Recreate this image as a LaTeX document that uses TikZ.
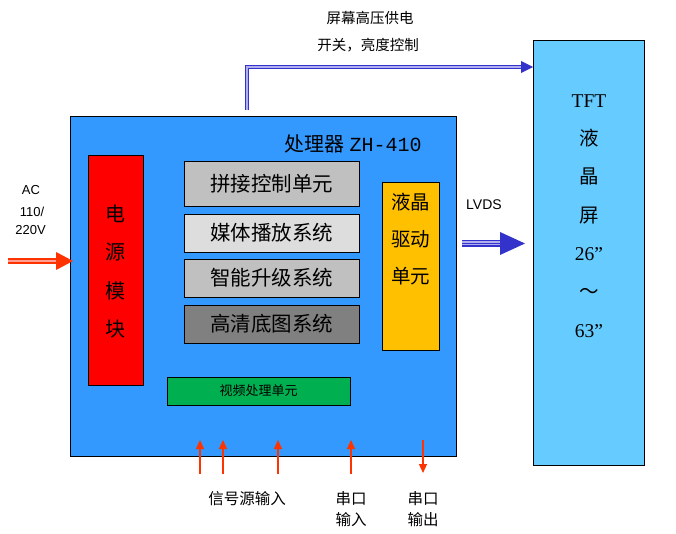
\documentclass[tikz,border=0pt]{standalone}
\usepackage{fontspec}
\setmainfont{Liberation Serif}
\setsansfont{Liberation Sans}
\setmonofont{Liberation Mono}
\newfontfamily\cjk{Noto Sans CJK SC}
\usetikzlibrary{arrows.meta}
\definecolor{mainblue}{HTML}{3399FF}
\definecolor{pwrred}{HTML}{FF0000}
\definecolor{silverc}{HTML}{C0C0C0}
\definecolor{paleg}{HTML}{DDDDDD}
\definecolor{darkg}{HTML}{808080}
\definecolor{lcdorange}{HTML}{FFC000}
\definecolor{vidgreen}{HTML}{00B050}
\definecolor{tftblue}{HTML}{66CCFF}
\definecolor{arrblue}{HTML}{3333CC}
\definecolor{arrblueL}{HTML}{B0B0F0}
\definecolor{arrred}{HTML}{FF3300}
\definecolor{arrredL}{HTML}{FFA090}
\begin{document}
\begin{tikzpicture}[x=1pt,y=-1pt,
  blk/.style={draw=black, line width=0.9pt, anchor=north west, inner sep=0pt, outer sep=0pt},
  cjkbig/.style={font=\cjk\fontsize{20.5}{20.5}\selectfont},
  lbl/.style={font=\cjk\fontsize{14.5}{14.5}\selectfont, inner sep=0pt},
  botlbl/.style={font=\cjk\fontsize{15.5}{15.5}\selectfont, inner sep=0pt},
  sig/.style={draw=arrred, line width=1.2pt, -{Triangle[width=8pt,length=9pt]}}
]
\useasboundingbox[fill=white] (0,0) rectangle (676,534);

% main processor box
\node[blk, fill=mainblue, minimum width=386pt, minimum height=340pt] (main) at (70,116) {};
\node[inner sep=0pt] (title) at (353,144) {\fontsize{20}{20}\selectfont{\cjk 处理器} \texttt{ZH-410}};

% power module
\node[blk, fill=pwrred, minimum width=55pt, minimum height=230pt] (pwr) at (88,155) {};
\node[align=center, inner sep=0pt, font=\cjk\fontsize{20}{38.3}\selectfont] (pwrt) at (115.5,271.5) {电\\源\\模\\块};

% gray boxes
\node[blk, fill=silverc, minimum width=175pt, minimum height=45pt] (b1) at (184,161) {};
\node[cjkbig] at (b1.center) {拼接控制单元};
\node[blk, fill=paleg, minimum width=175pt, minimum height=38pt] (b2) at (184,214) {};
\node[cjkbig] at (b2.center) {媒体播放系统};
\node[blk, fill=silverc, minimum width=175pt, minimum height=38pt] (b3) at (184,259) {};
\node[cjkbig] at (b3.center) {智能升级系统};
\node[blk, fill=darkg, minimum width=175pt, minimum height=38pt] (b4) at (184,305) {};
\node[cjkbig] at (b4.center) {高清底图系统};

% LCD driver
\node[blk, fill=lcdorange, minimum width=57pt, minimum height=168pt] (drv) at (382,182) {};
\node[align=center, inner sep=0pt, font=\cjk\fontsize{19.5}{37}\selectfont] (drvt) at (410.5,239) {液晶\\驱动\\单元};

% video processing
\node[blk, fill=vidgreen, minimum width=183pt, minimum height=28pt] (vid) at (167,377) {};
\node[font=\cjk\fontsize{13}{13}\selectfont] at (vid.center) {视频处理单元};

% TFT panel
\node[blk, fill=tftblue, minimum width=111pt, minimum height=425pt] (tft) at (533,40) {};
\node[align=center, inner sep=0pt, font=\fontsize{19.5}{38.3}\selectfont] (tftt) at (589,216) {TFT\\{\cjk 液}\\{\cjk 晶}\\{\cjk 屏}\\26”\\{\cjk ～}\\63”};

% top control arrow
\coordinate (t0) at (247,110);
\coordinate (t1) at (247,67);
\coordinate (t2) at (522,67);
\draw[draw=arrblue, line width=1.1pt, double=arrblueL, double distance=1.6pt] (t0) -- (t1) -- (t2);
\fill[arrblue] (521,61) -- (533,67) -- (521,73) -- cycle;
\node[lbl] at (370,18) {屏幕高压供电};
\node[lbl] at (368,45) {开关，亮度控制};

% LVDS arrow
\coordinate (l0) at (462,243.5);
\coordinate (l1) at (502,243.5);
\draw[draw=arrblue, line width=1.8pt, double=arrblueL, double distance=4pt] (l0) -- (l1);
\draw[draw=arrblue, line width=1.6pt] (l0) -- (l1);
\fill[arrblue] (500,232) -- (525,243.5) -- (500,255) -- cycle;
\node[font=\sffamily\fontsize{14}{14}\selectfont, inner sep=0pt] (lvds) at (484,205) {LVDS};

% AC arrow
\coordinate (a0) at (8,261);
\coordinate (a1) at (58,261);
\draw[draw=arrred, line width=1.8pt, double=arrredL, double distance=1.8pt] (a0) -- (a1);
\fill[arrred] (56,252) -- (73,261) -- (56,270) -- cycle;
\node[font=\sffamily\fontsize{13}{13}\selectfont, inner sep=0pt] (ac) at (31,190) {AC};
\node[font=\sffamily\fontsize{13}{13}\selectfont, inner sep=0pt] (v1) at (32,212) {110/};
\node[font=\sffamily\fontsize{13}{13}\selectfont, inner sep=0pt] (v2) at (30.5,230) {220V};

% bottom signal arrows
\coordinate (s1b) at (200,474); \coordinate (s1t) at (200,440);
\coordinate (s2b) at (223,474); \coordinate (s2t) at (223,440);
\coordinate (s3b) at (278,474); \coordinate (s3t) at (278,440);
\coordinate (s4b) at (351,474); \coordinate (s4t) at (351,440);
\coordinate (s5t) at (423,440); \coordinate (s5b) at (423,473);
\draw[sig] (s1b) -- (s1t);
\draw[sig] (s2b) -- (s2t);
\draw[sig] (s3b) -- (s3t);
\draw[sig] (s4b) -- (s4t);
\draw[sig] (s5t) -- (s5b);
\node[botlbl] at (247,499) {信号源输入};
\node[botlbl] at (351,499) {串口};
\node[botlbl] at (351,520) {输入};
\node[botlbl] at (423,499) {串口};
\node[botlbl] at (423,520) {输出};
\end{tikzpicture}
\end{document}
